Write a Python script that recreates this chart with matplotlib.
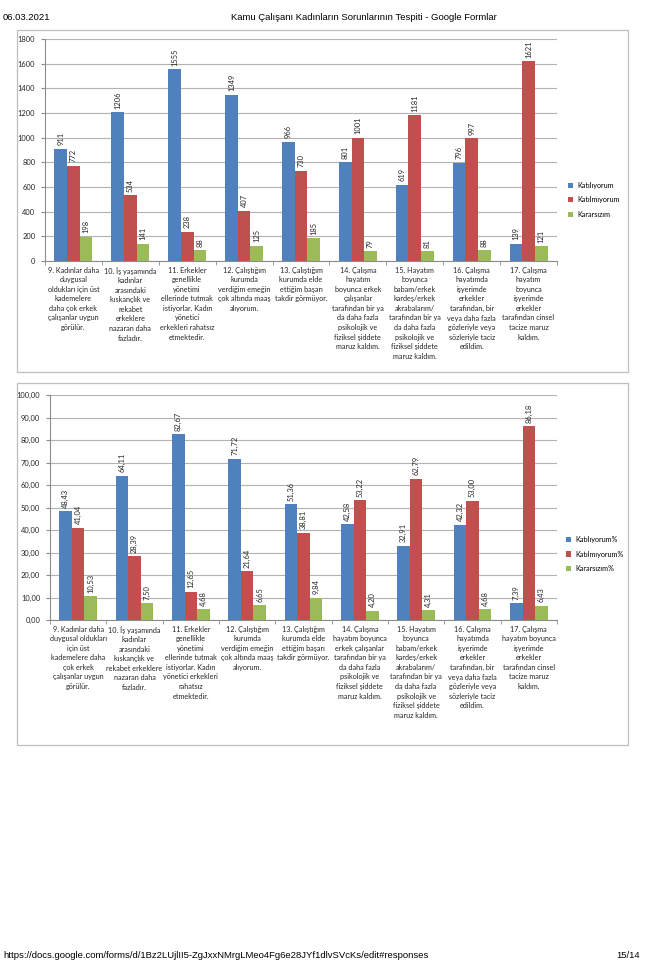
import numpy as np
import matplotlib
matplotlib.use("Agg")
import matplotlib.pyplot as plt
from matplotlib.patches import Rectangle

# data
katiliyorum = [911, 1206, 1555, 1349, 966, 801, 619, 796, 139]
katilmiyorum = [772, 534, 238, 407, 730, 1001, 1181, 997, 1621]
kararsizim = [198, 141, 88, 125, 185, 79, 81, 88, 121]

katiliyorum_pct = [48.43, 64.11, 82.67, 71.72, 51.36, 42.58, 32.91, 42.32, 7.39]
katilmiyorum_pct = [41.04, 28.39, 12.65, 21.64, 38.81, 53.22, 62.79, 53.00, 86.18]
kararsizim_pct = [10.53, 7.50, 4.68, 6.65, 9.84, 4.20, 4.31, 4.68, 6.43]

labels_counts = [
    "9. Kadınlar daha\nduygusal\noldukları için üst\nkademelere\ndaha çok erkek\nçalışanlar uygun\ngörülür.",
    "10. İş yaşamında\nkadınlar\narasındaki\nkıskançlık ve\nrekabet\nerkeklere\nnazaran daha\nfazladır.",
    "11. Erkekler\ngenellikle\nyönetimi\nellerinde tutmak\nistiyorlar. Kadın\nyönetici\nerkekleri rahatsız\netmektedir.",
    "12. Çalıştığım\nkurumda\nverdiğim emeğin\nçok altında maaş\nalıyorum.",
    "13. Çalıştığım\nkurumda elde\nettiğim başarı\ntakdir görmüyor.",
    "14. Çalışma\nhayatım\nboyunca erkek\nçalışanlar\ntarafından bir ya\nda daha fazla\npsikolojik ve\nfiziksel şiddete\nmaruz kaldım.",
    "15. Hayatım\nboyunca\nbabam/erkek\nkardeş/erkek\nakrabalarım/\ntarafından bir ya\nda daha fazla\npsikolojik ve\nfiziksel şiddete\nmaruz kaldım.",
    "16. Çalışma\nhayatımda\nişyerimde\nerkekler\ntarafından, bir\nveya daha fazla\ngözleriyle veya\nsözleriyle taciz\nedildim.",
    "17. Çalışma\nhayatım\nboyunca\nişyerimde\nerkekler\ntarafından cinsel\ntacize maruz\nkaldım.",
]
labels_pct = [
    "9. Kadınlar daha\nduygusal oldukları\niçin üst\nkademelere daha\nçok erkek\nçalışanlar uygun\ngörülür.",
    "10. İş yaşamında\nkadınlar\narasındaki\nkıskançlık ve\nrekabet erkeklere\nnazaran daha\nfazladır.",
    "11. Erkekler\ngenellikle\nyönetimi\nellerinde tutmak\nistiyorlar. Kadın\nyönetici erkekleri\nrahatsız\netmektedir.",
    "12. Çalıştığım\nkurumda\nverdiğim emeğin\nçok altında maaş\nalıyorum.",
    "13. Çalıştığım\nkurumda elde\nettiğim başarı\ntakdir görmüyor.",
    "14. Çalışma\nhayatım boyunca\nerkek çalışanlar\ntarafından bir ya\nda daha fazla\npsikolojik ve\nfiziksel şiddete\nmaruz kaldım.",
    "15. Hayatım\nboyunca\nbabam/erkek\nkardeş/erkek\nakrabalarım/\ntarafından bir ya\nda daha fazla\npsikolojik ve\nfiziksel şiddete\nmaruz kaldım.",
    "16. Çalışma\nhayatımda\nişyerimde\nerkekler\ntarafından, bir\nveya daha fazla\ngözleriyle veya\nsözleriyle taciz\nedildim.",
    "17. Çalışma\nhayatım boyunca\nişyerimde\nerkekler\ntarafından cinsel\ntacize maruz\nkaldım.",
]

series_names = ["Katılıyorum", "Katılmıyorum", "Kararsızım"]
colors = ["#4F81BD", "#C0504D", "#9BBB59"]

W, H = 660, 964
plt.rcParams["font.family"] = ["Lato", "DejaVu Sans"]
fig = plt.figure(figsize=(W / 100, H / 100), dpi=100)


def px_rect(x0, y0, x1, y1):
    # pixel box (top-left origin) -> figure fraction [l, b, w, h]
    return [x0 / W, 1 - y1 / H, (x1 - x0) / W, (y1 - y0) / H]


def draw_chart(rect, series, names, cat_labels, ymax, step, fmt, legend_xy):
    ax = fig.add_axes(rect)
    x = np.arange(len(cat_labels))
    bw = 1 / 4.5
    for i, (vals, name, c) in enumerate(zip(series, names, colors)):
        pos = x + (i - 1) * bw
        bars = ax.bar(pos, vals, width=bw, color=c, label=name, zorder=3)
        for b, v in zip(bars, vals):
            ax.annotate(fmt(v), (b.get_x() + b.get_width() / 2, v),
                        xytext=(0, 2.5), textcoords="offset points",
                        rotation=90, ha="center", va="bottom",
                        fontsize=5.4, color="#262626")
    ax.set_xlim(-0.5, len(cat_labels) - 0.5)
    ax.set_ylim(0, ymax)
    yt = np.arange(0, ymax + step / 2, step)
    ax.set_yticks(yt)
    ax.set_yticklabels([fmt(v) for v in yt])
    ax.yaxis.grid(True, color="#B3B3B3", lw=0.8, zorder=0)
    ax.set_axisbelow(True)
    for s in ["top", "right"]:
        ax.spines[s].set_visible(False)
    for s in ["left", "bottom"]:
        ax.spines[s].set_color("#8C8C8C")
        ax.spines[s].set_linewidth(0.8)
    ax.set_xticks(x)
    ax.set_xticklabels(cat_labels, fontsize=5.2, linespacing=1.43,
                       va="top", ha="center", color="#262626")
    ax.set_xticks(np.arange(-0.5, len(cat_labels)), minor=True)
    ax.tick_params(axis="x", which="major", length=0, pad=4)
    ax.tick_params(axis="x", which="minor", length=3, color="#8C8C8C")
    ax.tick_params(axis="y", length=3, color="#8C8C8C", labelsize=5.4,
                   pad=4, labelcolor="#262626")
    fig.legend(*ax.get_legend_handles_labels(), loc="center left",
               bbox_to_anchor=legend_xy, frameon=False, fontsize=5.2,
               handlelength=0.7, handleheight=0.7, handletextpad=0.6,
               labelspacing=1.0, borderaxespad=0, borderpad=0)
    return ax


# outer chart frames
for (x0, y0, x1, y1) in [(17, 30, 628, 372), (17, 383, 628, 745)]:
    fig.add_artist(Rectangle((x0 / W, 1 - y1 / H), (x1 - x0) / W,
                             (y1 - y0) / H, transform=fig.transFigure,
                             fill=False, ec="#BFBFBF", lw=0.9))

draw_chart(px_rect(45, 39, 557, 261),
           [katiliyorum, katilmiyorum, kararsizim], series_names,
           labels_counts, 1800, 200, lambda v: f"{v:g}",
           (568 / W, 1 - 200 / H))

pct_fmt = lambda v: f"{v:.2f}".replace(".", ",")
draw_chart(px_rect(50, 395, 557, 620),
           [katiliyorum_pct, katilmiyorum_pct, kararsizim_pct],
           [n + "%" for n in series_names], labels_pct, 100, 10,
           pct_fmt, (566 / W, 1 - 554 / H))

# page header and footer
hdr = dict(family=["Liberation Sans", "DejaVu Sans"], fontsize=6.8, va="center")
fig.text(3 / W, 1 - 18 / H, "06.03.2021", ha="left", **hdr)
fig.text(364 / W, 1 - 18 / H,
         "Kamu Çalışanı Kadınların Sorunlarının Tespiti - Google Formlar",
         ha="center", **hdr)
fig.text(3 / W, 1 - 955 / H,
         "https://docs.google.com/forms/d/1Bz2LUjlII5-ZgJxxNMrgLMeo4Fg6e28JYf1dlvSVcKs/edit#responses",
         ha="left", **hdr)
fig.text(640 / W, 1 - 955 / H, "15/14", ha="right", **hdr)

fig.savefig("out.png", dpi=100)
